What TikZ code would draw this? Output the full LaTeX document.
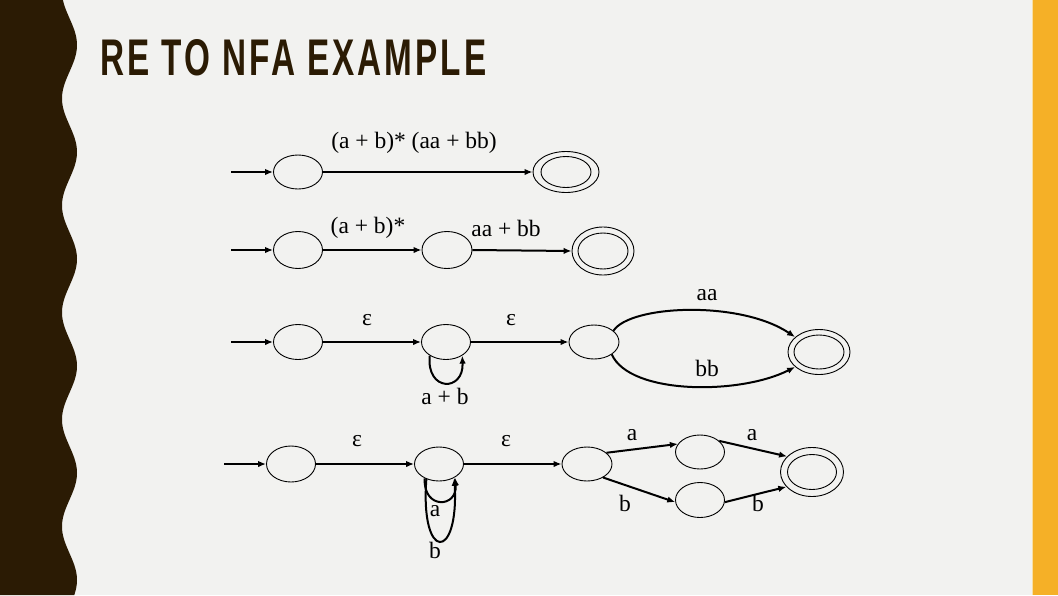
\documentclass[tikz,border=0pt]{standalone}
\usepackage{fontspec}
\setmainfont{Liberation Serif}
\newfontfamily\titlefont[LetterSpace=9]{Liberation Sans}
\usetikzlibrary{shapes.geometric,arrows.meta}
\definecolor{bgc}{HTML}{F2F2F0}
\definecolor{brownc}{HTML}{2B1B04}
\definecolor{orangec}{HTML}{F5B027}
\definecolor{palec}{HTML}{F7DFA6}
\tikzset{
  st/.style={ellipse, draw, line width=0.9pt, inner sep=0pt, minimum width=49pt, minimum height=35pt},
  ring/.style={ellipse, draw, line width=0.9pt, inner sep=0pt},
  tr/.style={line width=2pt, -{Latex[length=8pt,width=6.5pt]}},
  lbl/.style={inner sep=0pt, font=\fontsize{23.5}{26}\selectfont}
}
\begin{document}
\begin{tikzpicture}[x=1pt,y=-1pt]
\useasboundingbox (0,0) rectangle (1058,595);
\fill[bgc] (0,0) rectangle (1058,595);
\fill[brownc] (0,0) -- plot[domain=0:595, samples=240] ({69.5+7.5*cos(3.3645*(\x-45))}, \x) -- (0,595) -- cycle;
\fill[palec] (1031.5,0) rectangle (1033,595);
\fill[orangec] (1033,0) rectangle (1058,595);
\node[anchor=south west, inner sep=0pt, text=brownc] (title) at (100,76) {\resizebox{386pt}{36pt}{\titlefont\bfseries RE TO NFA EXAMPLE}};

% Row 1
\coordinate (e1) at (231,172);
\node[st, minimum height=34pt] (s11) at (298,172) {};
\node[ring, minimum width=66pt, minimum height=41pt] (f1) at (566,172) {};
\node[ring, minimum width=50pt, minimum height=31pt] (f1i) at (566,172) {};
\draw[tr] (e1) -- (s11);
\draw[tr] (s11) -- (f1);
\node[lbl] (l1) at (414,143) {(a + b)* (aa + bb)};

% Row 2
\coordinate (e2) at (231,250);
\node[st, minimum height=37pt] (s21) at (298,250) {};
\node[st, minimum width=50pt, minimum height=37pt] (s22) at (447,250) {};
\node[ring, minimum width=62pt, minimum height=48pt] (f2) at (603,251) {};
\node[ring, minimum width=50pt, minimum height=36pt] (f2i) at (603,251) {};
\draw[tr] (e2) -- (s21);
\draw[tr] (s21) -- (s22);
\draw[tr] (s22.east) -- (f2.west);
\node[lbl] (l21) at (368,228) {(a + b)*};
\node[lbl] (l22) at (506,228) {aa + bb};

% Row 3
\coordinate (e3) at (231,342);
\node[st] (s31) at (298,342) {};
\node[st] (s32) at (446,342) {};
\node[st, minimum width=50pt, minimum height=34pt] (s33) at (594,342) {};
\node[ring, minimum width=62pt, minimum height=45pt] (f3) at (819,352) {};
\node[ring, minimum width=50pt, minimum height=34pt] (f3i) at (819,352) {};
\draw[tr] (e3) -- (s31);
\draw[tr] (s31) -- (s32);
\draw[tr] (s32) -- (s33);
\draw[tr] (s32.-140) .. controls (426,392) and (464,392) .. (s32.-40);
\draw[tr] (s33.30) .. controls (630,305) and (740,300) .. (f3.148);
\draw[tr] (s33.-35) .. controls (630,395) and (740,395) .. (f3.-148);
\node[lbl] (l31) at (367,320) {ε};
\node[lbl] (l32) at (511,320) {ε};
\node[lbl] (l33) at (445,396) {a + b};
\node[lbl] (l34) at (707,295) {aa};
\node[lbl] (l35) at (707,368) {bb};

% Row 4
\coordinate (e4) at (224,464);
\node[st, minimum height=36pt] (s41) at (291,464) {};
\node[st, minimum height=34pt] (s42) at (439,464) {};
\node[st, minimum width=50pt, minimum height=34pt] (s43) at (587,464) {};
\node[st, minimum height=34pt] (s44) at (700,452) {};
\node[st] (s45) at (700,500) {};
\node[ring, minimum width=63pt, minimum height=49pt] (f4) at (812,472) {};
\node[ring, minimum width=49pt, minimum height=35pt] (f4i) at (812,472) {};
\draw[tr] (e4) -- (s41);
\draw[tr] (s41) -- (s42);
\draw[tr] (s42) -- (s43);
\draw[tr] (s42.-135) .. controls (423,510) and (458,508) .. (s42.-40);
\draw[tr] (s42.-130) .. controls (420,562) and (459,562) .. (s42.-42);
\draw[tr] (s43.30) -- (s44.160);
\draw[tr] (s43.-40) -- (s45.185);
\draw[tr] (s44.30) -- (f4.148);
\draw[tr] (s45.-5) -- (f4.-150);
\node[lbl] (l41) at (357,441) {ε};
\node[lbl] (l42) at (506,441) {ε};
\node[lbl] (l43) at (435,511) {a};
\node[lbl] (l44) at (435,550) {b};
\node[lbl] (l45) at (632,435) {a};
\node[lbl] (l46) at (625,503) {b};
\node[lbl] (l47) at (752,435) {a};
\node[lbl] (l48) at (758,503) {b};
\end{tikzpicture}
\end{document}
